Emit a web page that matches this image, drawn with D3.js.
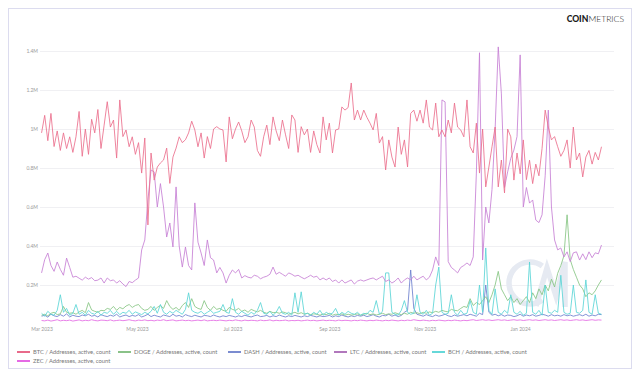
<!DOCTYPE html>
<html><head><meta charset="utf-8">
<script src="https://cdn.jsdelivr.net/npm/d3@7"></script>
<style>
html,body{margin:0;padding:0;background:#fff;}
svg{display:block;font-family:Lato,"Open Sans",sans-serif;}
</style></head>
<body><svg id="c" width="640" height="379"></svg>
<script>
// ---- DATA (values in thousands of active addresses, one point every 2 days from 1 Mar 2023) ----
const startDate = "2023-03-01";
const stepDays = 2;
const seriesNames = ["BTC / Addresses, active, count","DOGE / Addresses, active, count","DASH / Addresses, active, count","LTC / Addresses, active, count","BCH / Addresses, active, count","ZEC / Addresses, active, count"];
const btc = [980,1070,940,1080,910,990,890,980,900,960,880,960,1090,860,1000,870,1050,980,1100,900,
1020,1140,1010,1046,851,1149,961,995,909,960,870,930,774,954,508,877,738,805,826,841,
902,721,856,902,960,930,945,980,1040,995,909,980,851,961,900,1000,1012,1000,995,831,
1062,950,1000,1036,990,930,960,1046,1010,890,860,960,1020,920,1062,990,940,1046,970,900,
1072,1046,880,1012,970,1000,880,990,920,877,1062,944,1030,877,995,1000,1113,1097,1110,1236,
1046,1097,1046,1097,1060,1030,995,1080,928,961,790,944,856,805,1010,870,944,805,1080,1097,
1040,1097,1030,1149,1010,995,1133,960,995,960,1046,980,1133,1010,995,960,1149,909,877,1030,
774,1000,703,805,909,1010,703,841,672,1000,960,738,877,770,944,740,840,720,820,760,
900,1097,1010,944,961,909,860,890,944,800,1010,841,877,754,856,890,820,880,841,909];
const ltc = [262,330,364,300,270,318,280,250,338,290,240,245,235,225,240,230,238,222,225,236,
210,236,222,226,210,222,205,192,218,212,225,236,380,431,636,790,780,600,720,600,
446,518,395,703,400,292,395,300,277,621,420,364,300,431,340,328,262,290,262,210,
250,277,262,280,236,248,240,236,250,245,232,240,245,255,292,255,265,255,245,262,
255,245,250,240,232,240,250,240,245,226,236,226,236,218,226,210,226,210,218,226,
205,220,226,220,226,232,236,226,236,245,218,226,210,220,236,210,226,236,226,245,
226,236,245,226,240,277,344,300,1149,1139,320,290,277,262,290,300,313,300,344,774,
1391,328,600,518,690,1000,1421,1180,700,780,850,892,961,1380,600,700,620,636,533,520,
560,760,1097,600,431,380,390,344,370,320,365,370,328,360,330,370,340,365,360,405];
const doge = [45,50,42,55,60,48,52,90,60,55,58,50,62,70,58,110,72,65,60,70,
68,80,75,90,70,85,78,92,100,85,95,100,80,70,75,90,70,85,95,80,
120,90,75,85,70,95,110,85,130,90,80,75,120,85,70,90,75,80,70,65,
85,75,70,80,65,72,60,75,68,62,70,60,55,65,58,60,55,62,58,50,
55,60,52,58,50,55,48,52,50,45,52,48,55,45,50,48,52,45,50,46,
48,52,45,50,55,48,52,46,50,55,48,52,50,58,52,48,55,50,60,55,
58,52,60,55,62,58,65,60,70,65,62,75,70,68,80,90,85,130,95,110,
100,120,140,110,150,200,270,180,150,120,140,110,130,100,120,140,110,160,130,180,
150,200,170,230,190,260,300,350,560,330,280,240,200,180,140,160,150,170,200,226];
const dash = [40,45,35,50,42,38,48,40,52,36,45,40,38,46,42,50,40,44,36,48,
42,38,45,40,50,36,42,46,38,44,40,48,36,42,50,38,45,40,36,46,
42,38,50,40,44,36,48,42,38,45,40,36,44,42,38,46,40,36,42,38,
44,40,36,42,38,45,40,36,42,46,38,40,44,36,42,38,46,40,36,42,
38,44,40,36,42,38,44,40,36,42,38,40,44,36,42,38,46,40,36,42,
38,44,40,45,38,42,48,40,36,44,42,50,40,46,38,44,60,70,277,80,
50,45,40,48,42,38,46,40,44,50,42,38,46,40,44,48,42,50,45,40,
55,48,200,60,45,50,42,48,40,46,44,38,42,50,40,46,42,48,40,44,
50,46,40,48,42,45,40,48,42,46,40,44,48,42,50,40,46,42,50,48];
const bch = [55,40,65,50,45,70,150,60,80,45,55,100,50,60,45,70,55,50,65,45,
60,55,70,50,65,48,60,55,70,50,62,55,48,60,52,65,90,55,100,60,
50,65,55,70,60,50,75,160,70,60,55,65,50,60,70,55,60,65,100,60,
55,130,60,50,65,55,45,60,50,70,110,55,50,65,45,60,90,55,50,60,
45,160,60,165,50,55,45,60,50,70,45,60,50,55,80,45,60,50,65,55,
50,60,45,55,50,70,60,120,50,65,262,262,60,50,45,70,120,60,50,55,
150,60,50,70,45,55,200,292,60,50,55,150,60,45,70,50,55,120,60,50,
200,60,390,70,50,180,60,50,70,55,150,60,50,65,45,55,318,60,50,70,
45,200,60,55,70,60,250,60,50,55,200,60,55,70,226,60,50,150,55,50];
const zec = [18,16,20,15,18,22,16,19,17,20,15,18,21,16,19,17,22,18,16,20,
19,17,21,16,18,20,17,19,22,18,16,20,18,21,17,19,16,20,18,22,
17,19,21,16,18,20,17,19,16,18,20,17,21,16,18,19,17,20,18,16,
19,17,21,18,16,20,17,19,18,16,20,17,18,21,16,19,17,18,20,16,
18,17,19,16,18,20,17,19,16,18,20,17,19,18,16,20,17,19,18,16,
19,17,20,18,16,19,17,20,18,16,19,17,20,18,16,19,17,20,18,22,
19,17,20,18,16,19,17,20,18,16,19,17,20,18,16,19,17,20,22,18,
20,22,19,21,18,20,22,19,21,18,20,22,19,21,18,20,22,19,21,18,
20,22,19,21,18,20,22,19,21,18,20,22,19,21,18,20,22,19,21,20];
const xTickLabels = ["2023-03-01","2023-05-01","2023-07-01","2023-09-01","2023-11-01","2024-01-01"];
const yTickLabels = [200000,400000,600000,800000,1000000,1200000,1400000];
const seriesColors = ["#e2456c","#6db36a","#5a6fc4","#9e55ab","#3fcfd0","#df45df"];
const lineColors = ["#eb6f8c","#86c583","#6d80cf","#c680d5","#5ad4d6","#e46ae4"];

// ---- CHART ----
const svg = d3.select("#c");
const parse = d3.utcParse("%Y-%m-%d");
const t0 = parse(startDate);
const dates = btc.map((_, i) => d3.utcDay.offset(t0, i * stepDays));

// card
svg.append("rect").attr("x",8.5).attr("y",8.5).attr("width",623).attr("height",360)
  .attr("fill","#fff").attr("stroke","#dcdcef").attr("stroke-width",1);

const x = d3.scaleUtc().domain([parse("2023-02-28"), parse("2024-03-01")]).range([40, 614]);
const y = d3.scaleLinear().domain([0, 1400000]).range([324, 51]);

// grid
svg.append("g").selectAll("line").data(yTickLabels).join("line")
  .attr("x1",40).attr("x2",614).attr("y1",d=>y(d)+0.5).attr("y2",d=>y(d)+0.5)
  .attr("stroke","#f0f0f3").attr("stroke-width",1);

// y axis
const yAxis = d3.axisLeft(y).tickValues(yTickLabels).tickSize(0).tickPadding(0)
  .tickFormat(d => (d/1e6) + "M");
const gy = svg.append("g").attr("transform","translate(38,0)").call(yAxis);
gy.select(".domain").remove();
gy.selectAll("text").attr("font-size",5).attr("fill","#9a9a9a").attr("font-family","Lato,sans-serif");

// x axis
const xAxis = d3.axisBottom(x).tickValues(xTickLabels.map(parse)).tickSize(0).tickPadding(0)
  .tickFormat(d3.utcFormat("%b %Y"));
const gx = svg.append("g").attr("transform","translate(0,327)").call(xAxis);
gx.select(".domain").remove();
gx.selectAll("text").attr("font-size",5).attr("fill","#9a9a9a").attr("font-family","Lato,sans-serif");

// watermark
const wm = svg.append("g").attr("fill","none").attr("stroke","#e6eaf2").attr("stroke-width",5.5).attr("stroke-linecap","butt");
const arc = d3.path();
arc.arc(530, 283, 21, -Math.PI*0.3, -Math.PI*1.7, true);
wm.append("path").attr("d", arc.toString());
wm.append("path").attr("d","M536,306 L547,268 L556,296 L565,262 L565,307").attr("stroke-linejoin","miter");

// lines
const line = d3.line().x((d,i)=>x(dates[i])).y(d=>y(d*1000)).curve(d3.curveLinear);
const data = [btc, doge, dash, ltc, bch, zec];
const drawOrder = [5,2,1,4,3,0];
const gl = svg.append("g");
drawOrder.forEach(k => {
  gl.append("path").datum(data[k]).attr("d", line).attr("fill","none")
    .attr("stroke", lineColors[k]).attr("stroke-width",0.85)
    .attr("stroke-linejoin","round");
});

// legend
const legendPos = [[17,352],[118,352],[228,352],[334,352],[432,352],[17,361]];
const lg = svg.append("g");
seriesNames.forEach((n,k) => {
  const [lx,ly] = legendPos[k];
  lg.append("line").attr("x1",lx).attr("x2",lx+13).attr("y1",ly).attr("y2",ly)
    .attr("stroke",seriesColors[k]).attr("stroke-width",1.6);
  lg.append("text").attr("x",lx+16).attr("y",ly+2).attr("font-size",5.8).attr("fill","#777")
    .attr("font-family","Lato,sans-serif").text(n);
});

// logo
const logo = svg.append("text").attr("x",624).attr("y",22).attr("text-anchor","end")
  .attr("font-size",8.6).attr("fill","#1a1a1a").attr("font-family","Lato,sans-serif");
logo.append("tspan").attr("font-weight",900).text("COIN");
logo.append("tspan").attr("font-weight",300).text("METRICS");
</script>
</body></html>
